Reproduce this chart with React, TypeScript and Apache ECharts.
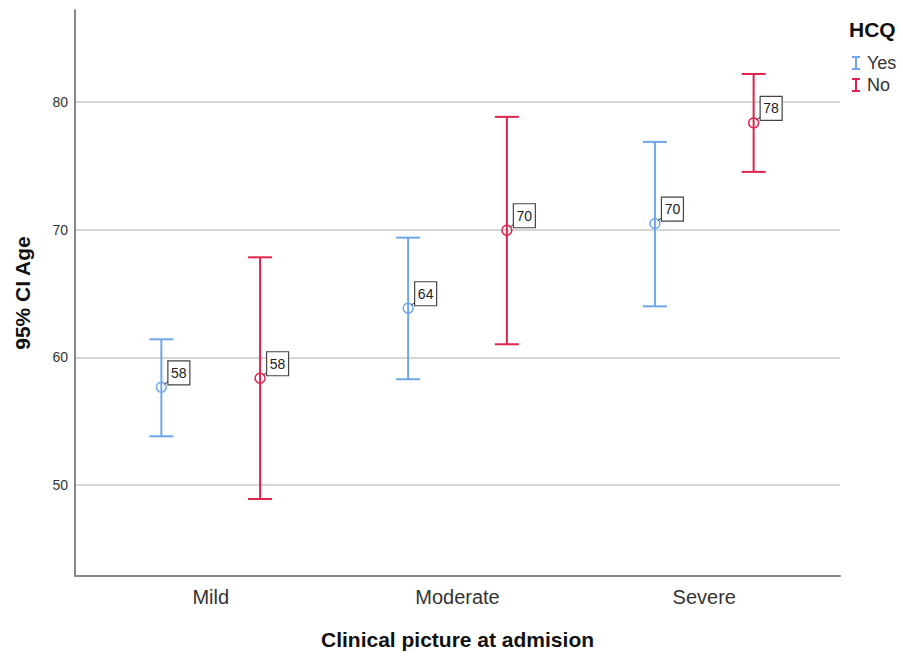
import React, { useEffect, useRef } from "react";
import * as echarts from "echarts";

const categories = ["Mild", "Moderate", "Severe"];
const groupNames = ["Yes", "No"];
const groupColors = ["#6EA6E8", "#E0234D"];
const groupOffsets = [-0.2, 0.2];

const yesMean = [57.65, 63.84, 70.47];
const yesLow = [53.81, 58.28, 63.99];
const yesHigh = [61.41, 69.37, 76.87];
const yesLabels = ["58", "64", "70"];

const noMean = [58.36, 69.95, 78.36];
const noLow = [48.9, 61.02, 74.52];
const noHigh = [67.83, 78.83, 82.19];
const noLabels = ["58", "70", "78"];

const FONT = "'Liberation Sans', Arial, sans-serif";

function makeRenderItem(color: string, labels: string[]) {
  return (params: any, api: any) => {
    const x = api.value(0);
    const m = api.coord([x, api.value(1)]);
    const lo = api.coord([x, api.value(2)]);
    const hi = api.coord([x, api.value(3)]);
    const cap = 12;
    const style = { stroke: color, lineWidth: 2, fill: "none" };
    const cx = m[0];
    const cy = m[1];
    return {
      type: "group",
      children: [
        { type: "line", shape: { x1: lo[0], y1: lo[1], x2: hi[0], y2: hi[1] }, style },
        { type: "line", shape: { x1: hi[0] - cap, y1: hi[1], x2: hi[0] + cap, y2: hi[1] }, style },
        { type: "line", shape: { x1: lo[0] - cap, y1: lo[1], x2: lo[0] + cap, y2: lo[1] }, style },
        { type: "circle", shape: { cx, cy, r: 5 }, style: { stroke: color, lineWidth: 1.5, fill: "none" } },
        { type: "line", shape: { x1: cx + 3, y1: cy - 3, x2: cx + 7, y2: cy - 6 }, style: { stroke: "#333", lineWidth: 1 } },
        {
          type: "rect",
          shape: { x: cx + 6.5, y: cy - 26.5, width: 22, height: 24 },
          style: { fill: "#fff", stroke: "#444", lineWidth: 1.2 },
        },
        {
          type: "text",
          style: {
            text: labels[params.dataIndex],
            x: cx + 17.5,
            y: cy - 14.5,
            align: "center",
            verticalAlign: "middle",
            fontSize: 14,
            fontFamily: FONT,
            fill: "#222",
          },
        },
      ],
    };
  };
}

export default function App() {
  const ref = useRef<HTMLDivElement>(null);
  useEffect(() => {
    if (!ref.current) return;
    const chart = echarts.init(ref.current, undefined, { renderer: "svg" });
    const yesData = categories.map((_, i) => [i + 1 + groupOffsets[0], yesMean[i], yesLow[i], yesHigh[i]]);
    const noData = categories.map((_, i) => [i + 1 + groupOffsets[1], noMean[i], noLow[i], noHigh[i]]);
    const icon = "path://M0,0H8V2H5V12H8V14H0V12H3V2H0Z";
    chart.setOption({
      animation: false,
      backgroundColor: "#fff",
      title: {
        text: "HCQ",
        left: 849,
        top: 19,
        padding: 0,
        textStyle: { fontFamily: FONT, fontSize: 21, fontWeight: "bold", color: "#111" },
      },
      legend: {
        orient: "vertical",
        left: 852,
        top: 54,
        padding: 0,
        itemWidth: 8,
        itemHeight: 14,
        itemGap: 4,
        data: groupNames.map((n, i) => ({ name: n, icon, itemStyle: { color: groupColors[i] } })),
        textStyle: { fontFamily: FONT, fontSize: 18, color: "#333", padding: [0, 0, 0, 2] },
      },
      grid: { left: 75, right: 63, top: 10, bottom: 81, containLabel: false },
      xAxis: {
        type: "value",
        min: 0.45,
        max: 3.55,
        name: "Clinical picture at admision",
        nameLocation: "middle",
        nameGap: 53,
        nameTextStyle: { fontFamily: FONT, fontSize: 21, fontWeight: "bold", color: "#111" },
        axisLine: { show: true, lineStyle: { color: "#888", width: 2 } },
        axisTick: { show: false },
        splitLine: { show: false },
        axisLabel: {
          customValues: [1, 2, 3],
          formatter: (v: number) => categories[Math.round(v) - 1] || "",
          fontFamily: FONT,
          fontSize: 20,
          color: "#333",
          margin: 11,
        },
      },
      yAxis: {
        type: "value",
        min: 42.87,
        max: 87.2,
        splitNumber: 5,
        name: "95% CI Age",
        nameLocation: "middle",
        nameGap: 42,
        nameTextStyle: { fontFamily: FONT, fontSize: 21, fontWeight: "bold", color: "#111" },
        axisLine: { show: true, lineStyle: { color: "#888", width: 2 } },
        axisTick: { show: false },
        splitLine: { show: true, showMinLine: false, showMaxLine: false, lineStyle: { color: "#c8c8c8", width: 1.5 } },
        axisLabel: {
          showMinLabel: false,
          showMaxLabel: false,
          fontFamily: FONT,
          fontSize: 14,
          color: "#333",
          margin: 7,
        },
      },
      series: [
        {
          name: groupNames[0],
          type: "custom",
          renderItem: makeRenderItem(groupColors[0], yesLabels),
          itemStyle: { color: groupColors[0] },
          encode: { x: 0, y: [1, 2, 3] },
          data: yesData,
          clip: false,
        },
        {
          name: groupNames[1],
          type: "custom",
          renderItem: makeRenderItem(groupColors[1], noLabels),
          itemStyle: { color: groupColors[1] },
          encode: { x: 0, y: [1, 2, 3] },
          data: noData,
          clip: false,
        },
      ],
    });
    return () => chart.dispose();
  }, []);
  return <div ref={ref} style={{ width: 903, height: 657, position: "absolute", left: 0, top: 0 }} />;
}
